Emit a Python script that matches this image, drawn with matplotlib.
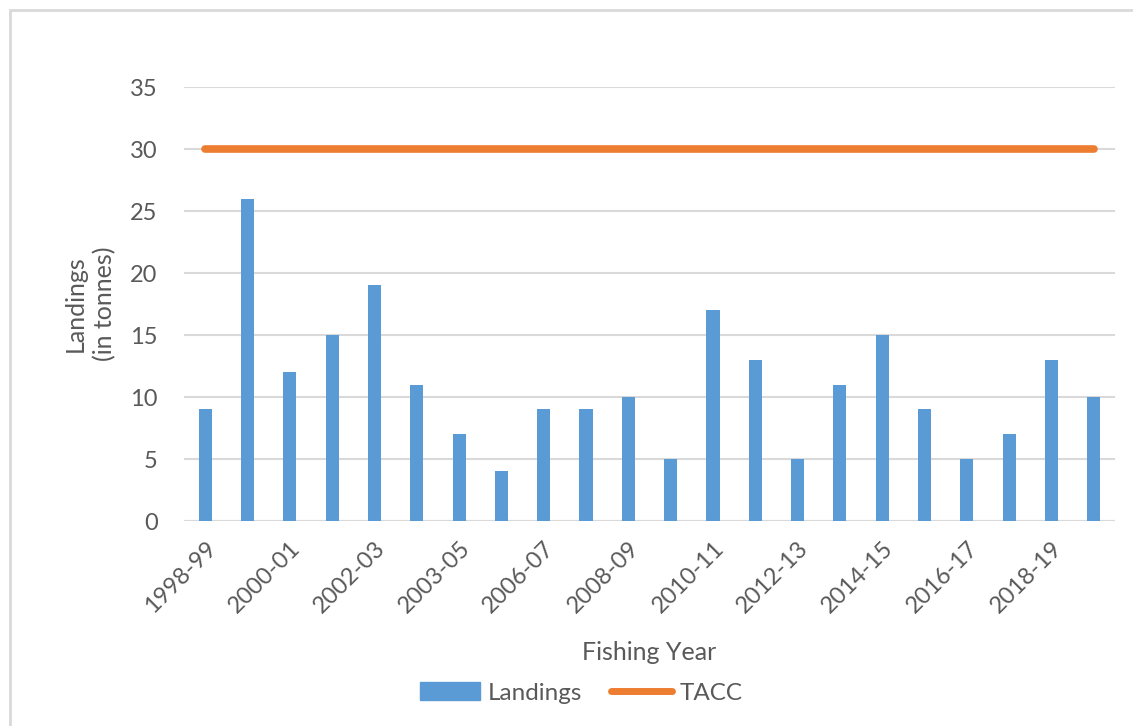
import numpy as np
import matplotlib
matplotlib.use("Agg")
from matplotlib import pyplot as plt
from matplotlib.patches import Rectangle
from matplotlib.lines import Line2D

# fishing years and landings (tonnes)
years = ['1998-99', '1999-00', '2000-01', '2001-02', '2002-03', '2003-04',
         '2003-05', '2005-06', '2006-07', '2007-08', '2008-09', '2009-10',
         '2010-11', '2011-12', '2012-13', '2013-14', '2014-15', '2015-16',
         '2016-17', '2017-18', '2018-19', '2019-20']
landings = [9, 26, 12, 15, 19, 11, 7, 4, 9, 9, 10, 5,
            17, 13, 5, 11, 15, 9, 5, 7, 13, 10]
tacc = [30] * len(years)

blue = '#5B9BD5'
orange = '#ED7D31'
grey_txt = '#595959'

plt.rcParams['font.family'] = ['Lato', 'DejaVu Sans']

fig = plt.figure(figsize=(11.33, 7.26), dpi=100)
# chart border (only top/left edges show)
fig.patches.append(Rectangle((10 / 1133, -0.1), 1.2, 1.1 - 10 / 726, transform=fig.transFigure,
                             fill=False, edgecolor='#D9D9D9', lw=2))

ax = fig.add_axes([184 / 1133, 1 - 521 / 726, (1115 - 184) / 1133, 434 / 726])
x = np.arange(len(years))
ax.bar(x, landings, width=0.31, color=blue, zorder=2)
ax.plot(x, tacc, color=orange, lw=5.5, solid_capstyle='round', zorder=3)

ax.set_xlim(-0.5, len(years) - 0.5)
ax.set_ylim(0, 35)
ax.set_yticks(range(0, 36, 5))
ax.yaxis.grid(True, color='#D9D9D9', lw=1.5, zorder=0)
ax.set_axisbelow(True)
for s in ax.spines.values():
    s.set_visible(False)
ax.axhline(0, color='#D9D9D9', lw=1.5, zorder=1)

ax.set_xticks(x[::2])
ax.set_xticklabels(years[::2], rotation=45, ha='right', rotation_mode='anchor')
ax.tick_params(axis='both', length=0, labelsize=17, labelcolor=grey_txt)
ax.tick_params(axis='y', pad=19)
ax.tick_params(axis='x', pad=12)

ax.set_xlabel('Fishing Year', fontsize=18, color=grey_txt, labelpad=17)
fig.text(90 / 1133, 1 - 304 / 726, 'Landings\n(in tonnes)', rotation=90, fontsize=18,
         color=grey_txt, ha='center', va='center', linespacing=1.35)

handles = [Rectangle((0, 0), 1, 1, color=blue),
           Line2D([0], [0], color=orange, lw=5, solid_capstyle='round')]
fig.legend(handles, ['Landings', 'TACC'], loc='center', bbox_to_anchor=(581 / 1133, 1 - 693 / 726),
           ncol=2, frameon=False, fontsize=17.5, labelcolor=grey_txt,
           handlelength=2.5, handletextpad=0.3, columnspacing=1.2)

fig.savefig('out.png', dpi=100)
